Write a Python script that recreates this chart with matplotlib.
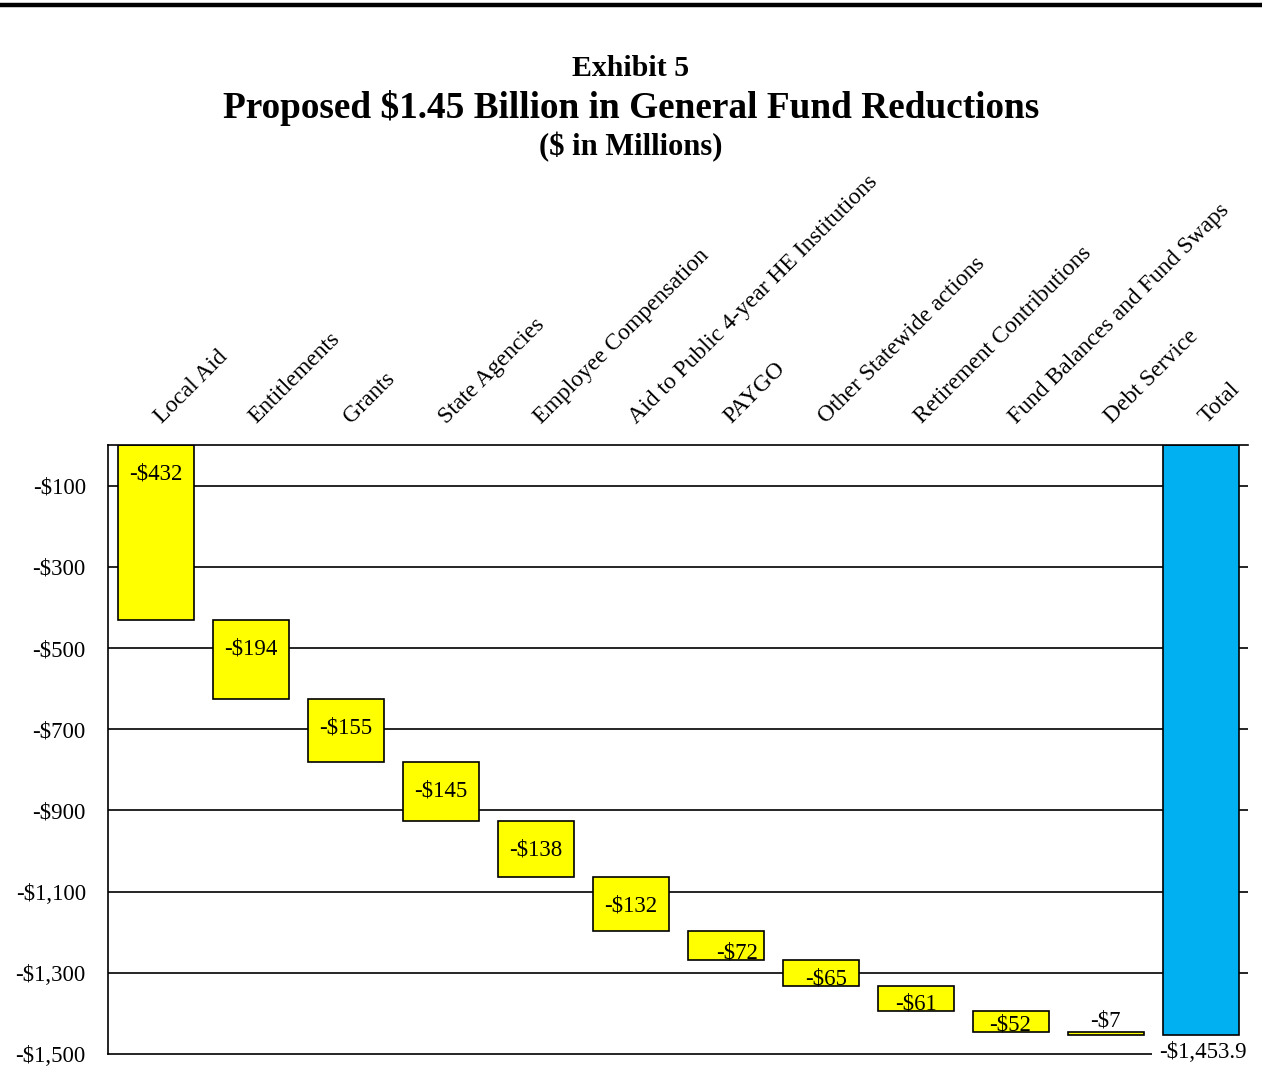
import matplotlib
matplotlib.use("Agg")
import matplotlib.pyplot as plt
from matplotlib.lines import Line2D
import matplotlib.transforms as mtransforms
import numpy as np

plt.rcParams['font.family'] = ['Liberation Serif', 'DejaVu Serif']

categories = ["Local Aid", "Entitlements", "Grants", "State Agencies",
              "Employee Compensation", "Aid to Public 4-year HE Institutions",
              "PAYGO", "Other Statewide actions", "Retirement Contributions",
              "Fund Balances and Fund Swaps", "Debt Service", "Total"]
amounts = [-432, -194, -155, -145, -138, -132, -72, -65, -61, -52, -7]
total_value = -1453.9
yticks = [-100, -300, -500, -700, -900, -1100, -1300, -1500]
ytick_labels = ["-$100", "-$300", "-$500", "-$700", "-$900", "-$1,100", "-$1,300", "-$1,500"]

W, H = 1262, 1069
fig = plt.figure(figsize=(W / 100, H / 100), dpi=100)
ax = fig.add_axes([108 / W, 15 / H, 1140 / W, 609 / H])

yellow = "#FFFF00"
blue = "#00B0F0"
lw = 1.2

n = len(categories)
x = np.arange(n)
bottoms = np.concatenate([[0], np.cumsum(amounts)[:-1]])

# gridlines
for yv in yticks[:-1]:
    ax.axhline(yv, color="black", lw=lw, zorder=1)

ax.bar(x[:-1], amounts, bottom=bottoms, width=0.8, color=yellow,
       edgecolor="black", linewidth=lw, zorder=2)
ax.bar(x[-1], total_value, bottom=0, width=0.8, color=blue,
       edgecolor="black", linewidth=lw, zorder=2)

ax.set_xlim(-0.5, n - 0.5)
ax.set_ylim(-1500, 0)
ax.set_yticks(yticks)
ax.set_yticklabels(ytick_labels, fontsize=16.5)
ax.tick_params(axis="y", length=0, pad=16)
ax.set_xticks([])
for s in ["top", "left", "bottom"]:
    ax.spines[s].set_linewidth(lw)
    ax.spines[s].set_zorder(3)
ax.spines["right"].set_visible(False)

# px per data unit
ppu = 609 / 1500.0
label_nudge = {6: 12, 7: 6}
for i, (b, v) in enumerate(zip(bottoms, amounts)):
    txt = "-${:,.0f}".format(abs(v))
    h = abs(v)
    dx = label_nudge.get(i, 0)
    if h < 20:
        ax.annotate(txt, xy=(i, b), xytext=(dx, 1), textcoords="offset pixels",
                    ha="center", va="bottom", fontsize=16.5, zorder=4)
    else:
        off = min(66, h - 22) * ppu + 2
        ax.annotate(txt, xy=(i, b), xytext=(dx, -off), textcoords="offset pixels",
                    ha="center", va="center", fontsize=16.5, zorder=4)

ax.annotate("-${:,.1f}".format(abs(total_value)), xy=(n - 1, -1500),
            xytext=(2, 1), textcoords="offset pixels", ha="center", va="center",
            fontsize=16.5, zorder=5, annotation_clip=False,
            bbox=dict(boxstyle="square,pad=0.3", fc="white", ec="none"))

# category labels
trans = mtransforms.blended_transform_factory(ax.transData, ax.transAxes)
for i, c in enumerate(categories):
    ax.annotate(c, xy=(i, 1), xycoords=trans, xytext=(6, 21),
                textcoords="offset pixels", rotation=45, rotation_mode="anchor",
                ha="left", va="baseline", fontsize=17, annotation_clip=False)

# titles
fig.text(0.5, 1 - 68 / H, "Exhibit 5", ha="center", va="center",
         fontsize=21.5, fontweight="bold")
fig.text(0.5, 1 - 108 / H, "Proposed $1.45 Billion in General Fund Reductions",
         ha="center", va="center", fontsize=26.8, fontweight="bold")
fig.text(0.5, 1 - 147 / H, "($ in Millions)", ha="center", va="center",
         fontsize=22, fontweight="bold")

fig.add_artist(Line2D([2 / W, 1260 / W], [1 - 5 / H, 1 - 5 / H],
                      color="black", lw=3.2, transform=fig.transFigure))

fig.savefig("out.png", dpi=100)
